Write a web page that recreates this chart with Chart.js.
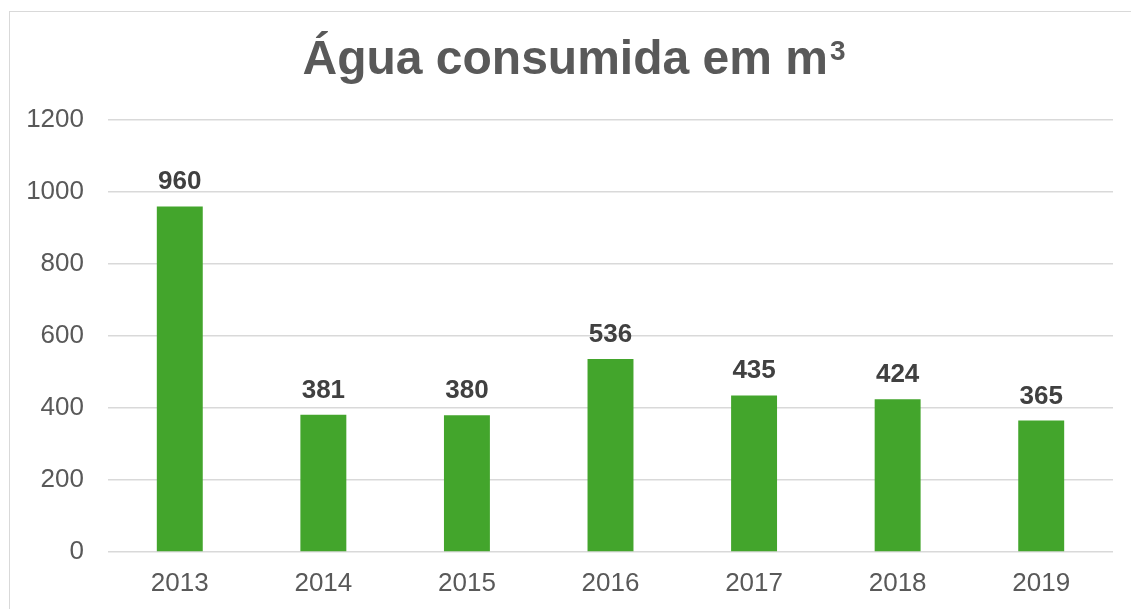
<!DOCTYPE html>
<html>
<head>
<meta charset="utf-8">
<script src="https://cdn.jsdelivr.net/npm/chart.js@4.4.0/dist/chart.umd.min.js"></script>
<style>
  html, body { margin: 0; padding: 0; background: #fff; }
  #wrap { position: relative; width: 1131px; height: 609px; overflow: hidden; }
  #frame { position: absolute; left: 9px; top: 11px; width: 1140px; height: 620px; border: 1px solid #d9d9d9; box-sizing: border-box; }
  #c { position: absolute; left: 0; top: 0; }
</style>
</head>
<body>
<div id="wrap">
  <div id="frame"></div>
  <canvas id="c" width="1131" height="609"></canvas>
</div>
<script>
const years = ['2013', '2014', '2015', '2016', '2017', '2018', '2019'];
const consumo = [960, 381, 380, 536, 435, 424, 365];
const yMin = 0;
const yMax = 1200;
const yStep = 200;
const tituloBase = 'Água consumida em m';
const tituloSup = '3';

const fontFam = '"Liberation Sans", Arial, sans-serif';

// título com o expoente
const titulo = {
    id: 'titulo',
    afterDraw(chart) {
        const ctx = chart.ctx;
        ctx.save();
        ctx.fillStyle = '#595959';
        ctx.textBaseline = 'alphabetic';
        ctx.textAlign = 'left';
        ctx.font = 'bold 48px ' + fontFam;
        const w1 = ctx.measureText(tituloBase).width;
        ctx.font = 'bold 28px ' + fontFam;
        const w2 = ctx.measureText(tituloSup).width;
        const x0 = 574 - (w1 + w2 + 2) / 2;
        ctx.font = 'bold 48px ' + fontFam;
        ctx.fillText(tituloBase, x0, 74);
        ctx.font = 'bold 28px ' + fontFam;
        ctx.fillText(tituloSup, x0 + w1 + 2, 60);
        ctx.restore();
    }
};

// valores em cima das barras
const valueLabels = {
    id: 'valueLabels',
    afterDatasetsDraw(chart) {
        const ctx = chart.ctx;
        const meta = chart.getDatasetMeta(0);
        ctx.save();
        ctx.font = 'bold 26px ' + fontFam;
        ctx.fillStyle = '#404040';
        ctx.textAlign = 'center';
        ctx.textBaseline = 'alphabetic';
        meta.data.forEach((bar, i) => {
            ctx.fillText(chart.data.datasets[0].data[i], bar.x, bar.y - 17);
        });
        ctx.restore();
    }
};

new Chart(document.getElementById('c'), {
    type: 'bar',
    data: {
        labels: years,
        datasets: [{
            label: 'Água consumida',
            data: consumo,
            backgroundColor: '#43a52c',
            borderWidth: 0,
            categoryPercentage: 1,
            barPercentage: 0.32
        }]
    },
    options: {
        responsive: false,
        animation: false,
        layout: { padding: { left: 0, right: 18, top: 120, bottom: 0 } },
        plugins: {
            legend: { display: false },
            tooltip: { enabled: false },
            title: { display: false }
        },
        scales: {
            x: {
                grid: { display: false, drawTicks: false },
                border: { display: false },
                ticks: { color: '#595959', font: { family: fontFam, size: 26 }, padding: 16 },
                afterFit(scale) { scale.height = 57; }
            },
            y: {
                min: yMin,
                max: yMax,
                grid: { color: '#d9d9d9', lineWidth: 1.5, drawTicks: false },
                border: { display: false },
                ticks: {
                    stepSize: yStep,
                    color: '#595959',
                    font: { family: fontFam, size: 26 },
                    padding: 24,
                    callback: (v) => String(v)
                },
                afterFit(scale) { scale.width = 108; }
            }
        }
    },
    plugins: [titulo, valueLabels]
});
</script>
</body>
</html>
